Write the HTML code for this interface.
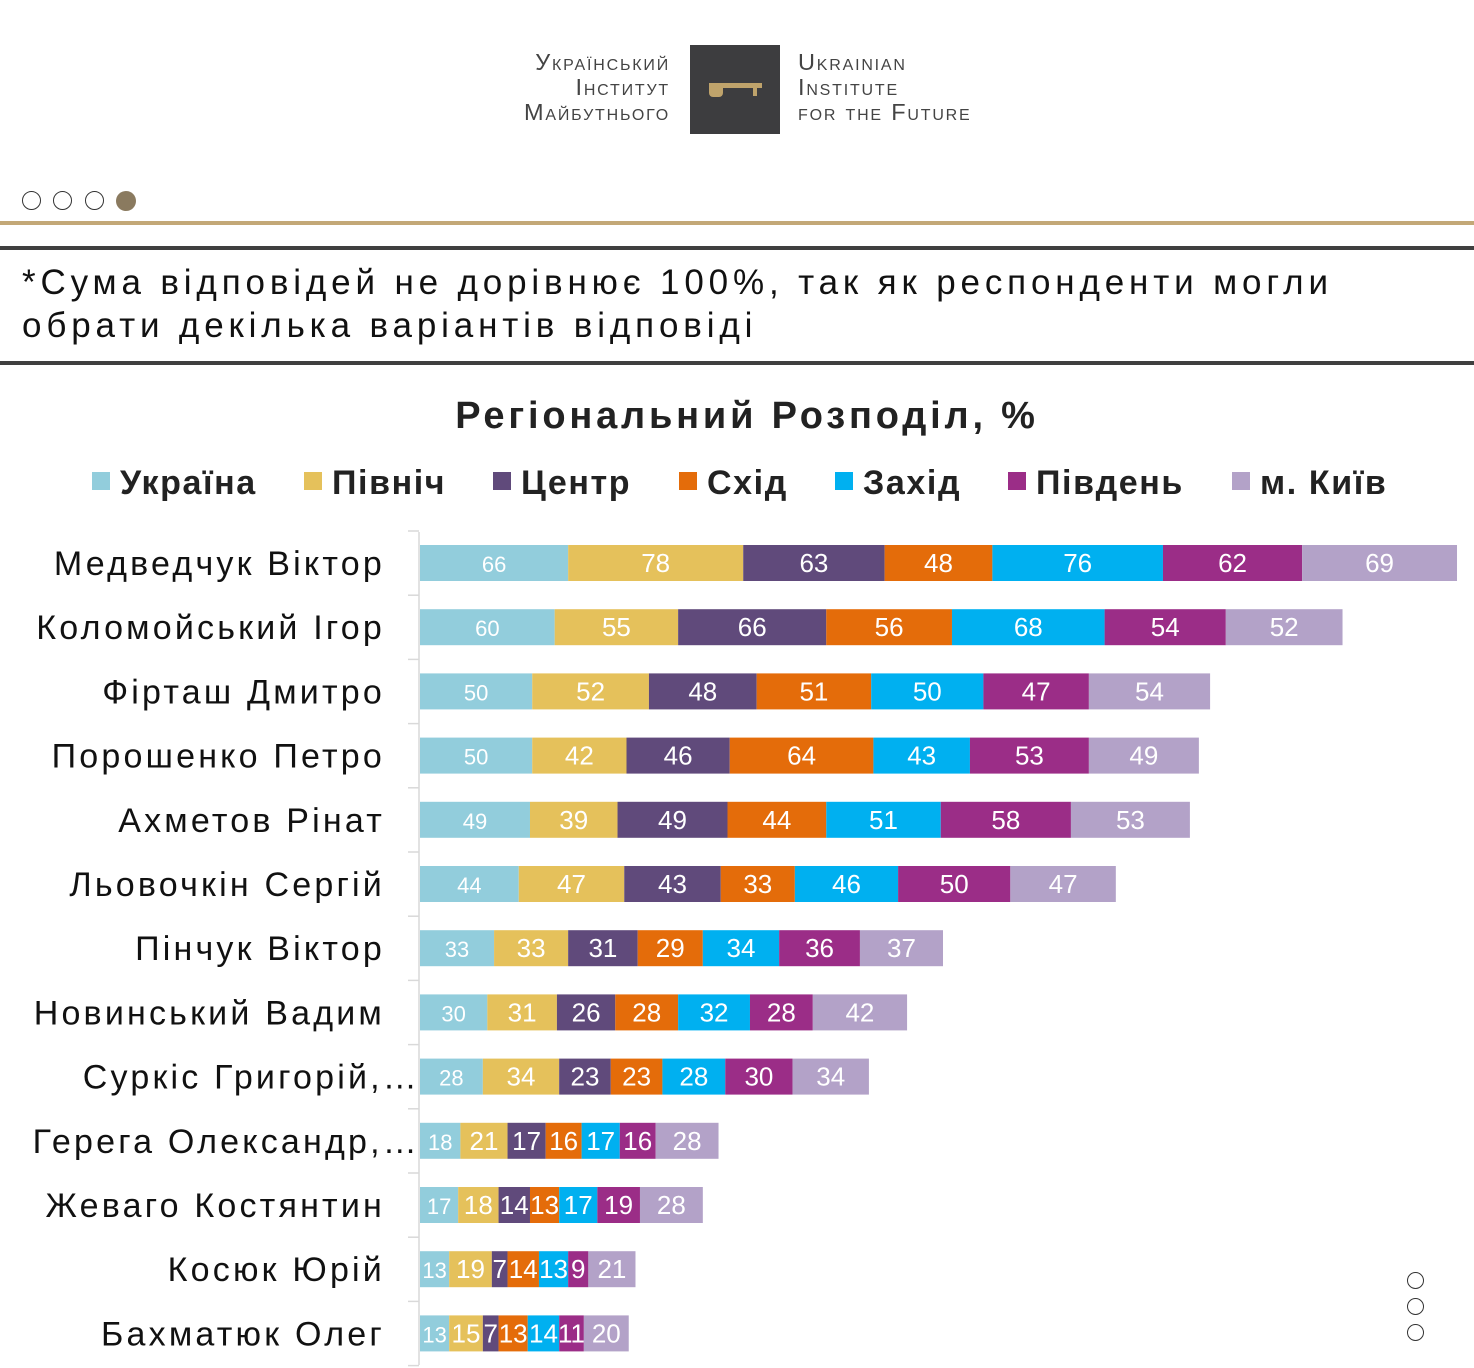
<!DOCTYPE html>
<html><head><meta charset="utf-8">
<style>
html,body{margin:0;padding:0;background:#fff;}
body{width:1474px;height:1368px;position:relative;overflow:hidden;font-family:"Liberation Sans",sans-serif;}
.abs{position:absolute;}
</style></head>
<body>
<div class="abs" style="left:500px;top:40px;width:480px;height:100px;">
  <div class="abs" style="right:310px;top:10px;text-align:right;font-family:'Liberation Sans',sans-serif;color:#444;font-size:23.5px;line-height:25px;letter-spacing:1.8px;font-variant:small-caps;">Український<br>Інститут<br>Майбутнього</div>
  <div class="abs" style="left:190px;top:5px;width:90px;height:89px;background:#3d3d3f;">
    <svg width="90" height="89"><path d="M19 38 v10 a4 4 0 0 0 4 4 h6 a4 4 0 0 0 4 -4 v-5 h30 v8 h4 v-8 h5 v-5 z" fill="#bfa36b"/></svg>
  </div>
  <div class="abs" style="left:298px;top:10px;font-family:'Liberation Sans',sans-serif;color:#444;font-size:23.5px;line-height:25px;letter-spacing:1.8px;font-variant:small-caps;white-space:nowrap;">Ukrainian<br>Institute<br>for the Future</div>
</div>
<div>
  <div class="abs" style="left:22px;top:191px;width:19px;height:19px;border:1px solid #333;border-radius:50%;box-sizing:border-box;"></div>
  <div class="abs" style="left:53px;top:191px;width:19px;height:19px;border:1px solid #333;border-radius:50%;box-sizing:border-box;"></div>
  <div class="abs" style="left:85px;top:191px;width:19px;height:19px;border:1px solid #333;border-radius:50%;box-sizing:border-box;"></div>
  <div class="abs" style="left:116px;top:191px;width:20px;height:20px;background:#8a7a5f;border-radius:50%;"></div>
</div>
<div class="abs" style="left:0;top:221px;width:1474px;height:4px;background:#c3a877;"></div>
<div class="abs" style="left:0;top:246px;width:1474px;height:4px;background:#3f3f3f;"></div>
<div class="abs" style="left:22px;top:261px;font-size:35px;line-height:43px;letter-spacing:4.85px;color:#111;white-space:nowrap;">*Сума відповідей не дорівнює 100%, так як респонденти могли<br>обрати декілька варіантів відповіді</div>
<div class="abs" style="left:0;top:361px;width:1474px;height:4px;background:#3f3f3f;"></div>
<div class="abs">
  <div class="abs" style="left:1407px;top:1272px;width:17px;height:17px;border:1px solid #333;border-radius:50%;box-sizing:border-box;"></div>
  <div class="abs" style="left:1407px;top:1298px;width:17px;height:17px;border:1px solid #333;border-radius:50%;box-sizing:border-box;"></div>
  <div class="abs" style="left:1407px;top:1324px;width:17px;height:17px;border:1px solid #333;border-radius:50%;box-sizing:border-box;"></div>
</div>
<svg id="chart" class="abs" style="left:0;top:0;" width="1474" height="1368"></svg>
<script>
const categories=["Медведчук Віктор","Коломойський Ігор","Фірташ Дмитро","Порошенко Петро","Ахметов Рінат","Льовочкін Сергій","Пінчук Віктор","Новинський Вадим","Суркіс Григорій,…","Герега Олександр,…","Жеваго Костянтин","Косюк Юрій","Бахматюк Олег"];
const seriesNames=["Україна","Північ","Центр","Схід","Захід","Південь","м. Київ"];
const ukraine=[66,60,50,50,49,44,33,30,28,18,17,13,13];
const north=[78,55,52,42,39,47,33,31,34,21,18,19,15];
const centre=[63,66,48,46,49,43,31,26,23,17,14,7,7];
const east=[48,56,51,64,44,33,29,28,23,16,13,14,13];
const west=[76,68,50,43,51,46,34,32,28,17,17,13,14];
const south=[62,54,47,53,58,50,36,28,30,16,19,9,11];
const kyiv=[69,52,54,49,53,47,37,42,34,28,28,21,20];
const series=[ukraine,north,centre,east,west,south,kyiv];
const colors=["#92cddc","#e5c15b","#604a7b","#e46c0a","#00b0f0","#9b2d87","#b3a2c8"];
const NS="http://www.w3.org/2000/svg";
const svg=document.getElementById('chart');
const x0=420, scale=2.2446, rowTop=545, rowStep=64.2, barH=36;
const xs=v=>v*scale;
const yRow=i=>rowTop+i*rowStep;
function mk(tag,attrs){const e=document.createElementNS(NS,tag);for(const k in attrs)e.setAttribute(k,attrs[k]);svg.appendChild(e);return e;}
let t=mk('text',{x:747,y:428,'text-anchor':'middle','font-size':38,'font-weight':'bold',fill:'#222','letter-spacing':'3.8'});


t.textContent="Регіональний Розподіл, %";
const legX=[92,304,493,679,835,1008,1232];
seriesNames.forEach((n,j)=>{
  const r=mk('rect',{x:legX[j],y:472,width:18,height:18,fill:colors[j]});
  
  
  const tx=mk('text',{x:legX[j]+28,y:494,'font-size':34,'font-weight':'bold',fill:'#222','letter-spacing':'1.6'});
  
  
  tx.textContent=n;
});
const ax=mk('line',{x1:419,y1:532,x2:419,y2:1365,stroke:'#d9d9d9','stroke-width':1.5});


for(let i=0;i<=categories.length;i++){
  const yy=yRow(i)-14;
  const tk=mk('line',{x1:408,y1:yy,x2:419,y2:yy,stroke:'#d9d9d9','stroke-width':1.5});
  
  
}
categories.forEach((c,i)=>{
  const y=yRow(i);
  const trunc=c.endsWith('…');
  const lb=mk('text',{x:trunc?420:385,y:y+30,'text-anchor':'end','font-size':34,fill:'#111','letter-spacing':'3.2'});
  
  
  lb.textContent=c;
  let acc=0;
  series.forEach((s,j)=>{
    const v=s[i];
    const bx=x0+xs(acc), w=xs(v);
    const r=mk('rect',{x:bx,y:y,width:w,height:barH,fill:colors[j]});
    
    
    const vt=mk('text',{x:bx+w/2,y:y+27,'text-anchor':'middle','font-size':j===0?22:26,fill:'#fff'});
    
    
    vt.textContent=v;
    acc+=v;
  });
});
</script>
</body></html>
